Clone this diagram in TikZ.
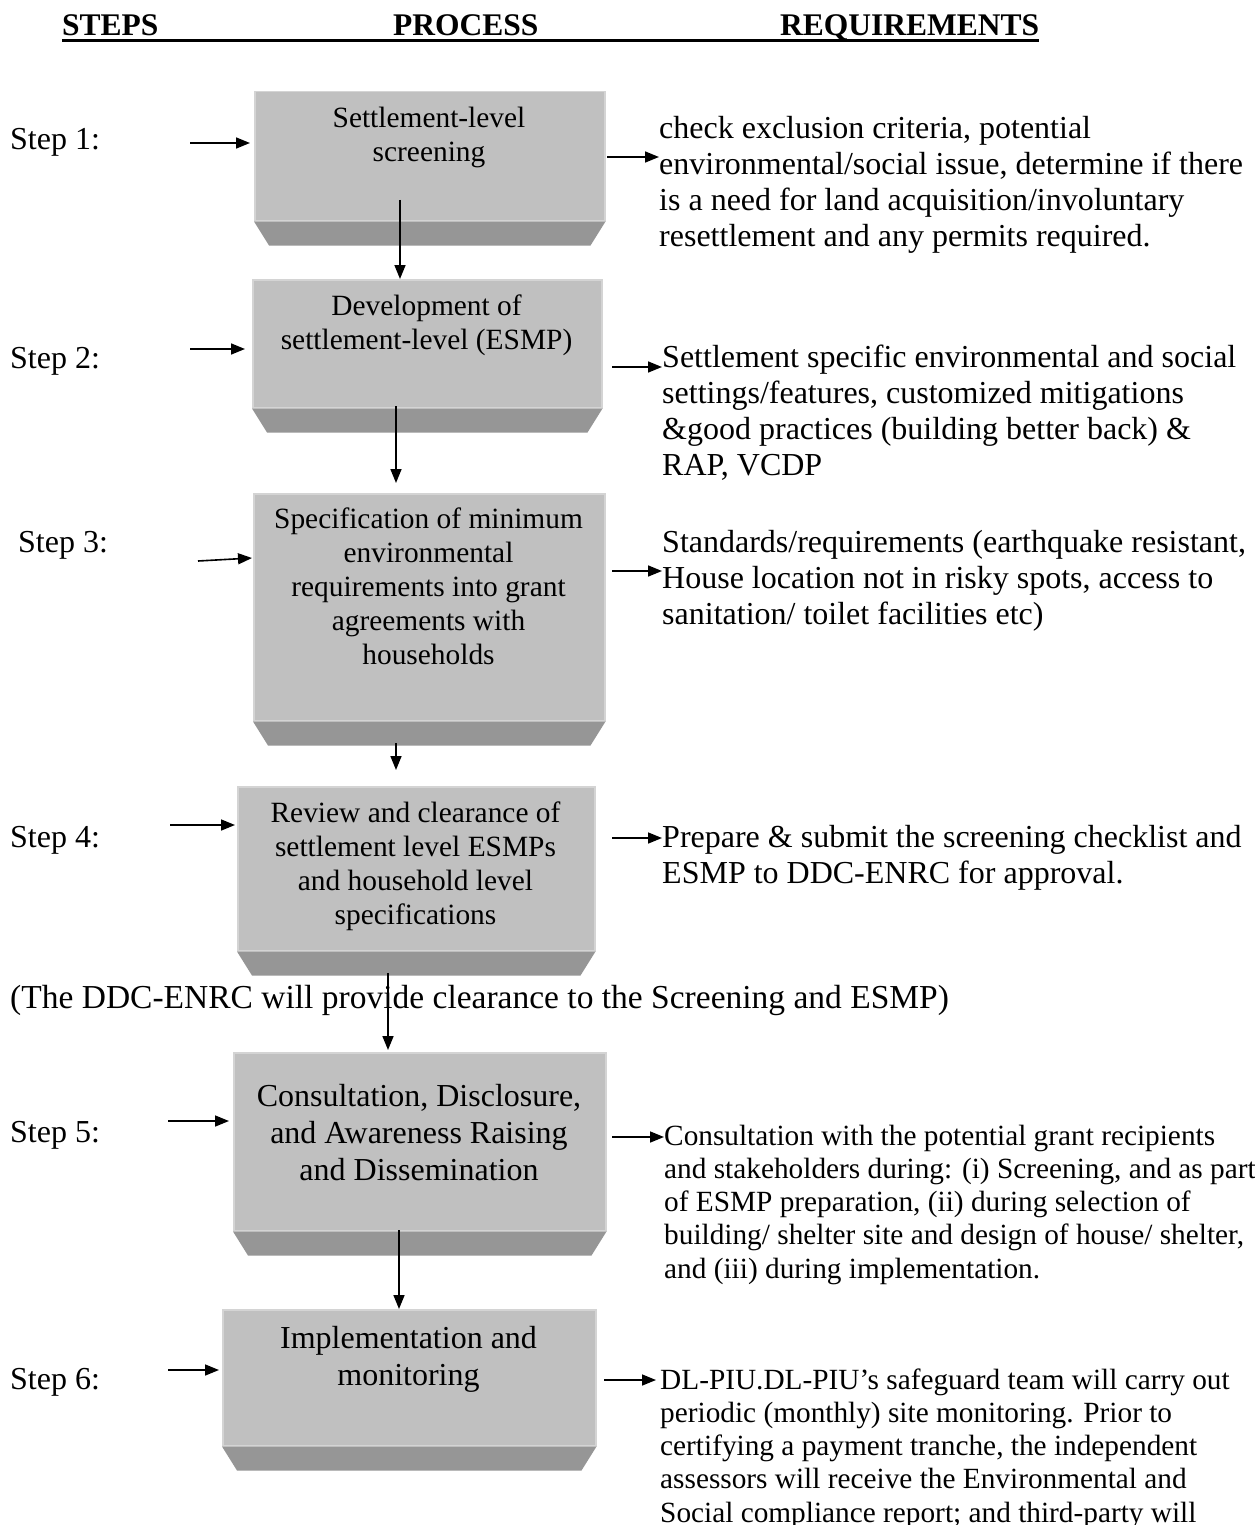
\documentclass[tikz,border=0pt]{standalone}
\usepackage{fontspec}
\setmainfont{Liberation Serif}
\usetikzlibrary{arrows.meta,calc}
\definecolor{facegray}{RGB}{192,192,192}
\definecolor{edgegray}{RGB}{212,212,212}
\definecolor{bevelgray}{RGB}{150,150,150}
\newcommand\myst{\rule{0pt}{25pt}}
\newcommand\mystb{\rule{0pt}{26pt}}
\tikzset{
  face/.style={fill=facegray, draw=edgegray, line width=1.5pt, inner sep=0pt, anchor=north west},
  bevelpart/.style={fill=bevelgray},
  btext/.style={align=center, anchor=north, inner sep=0pt, font=\fontsize{29.4}{34}\selectfont},
  btextb/.style={align=center, anchor=north, inner sep=0pt, font=\fontsize{32}{37}\selectfont},
  rtext/.style={align=left, anchor=north west, inner sep=0pt, font=\fontsize{32}{36}\selectfont},
  rtexts/.style={align=left, anchor=north west, inner sep=0pt, font=\fontsize{29.3}{33.2}\selectfont},
  steplabel/.style={anchor=base west, inner sep=0pt, font=\fontsize{32}{36}\selectfont},
  headtext/.style={anchor=base west, inner sep=0pt, font=\fontsize{31.5}{36}\selectfont\bfseries},
  arr/.style={line width=1.6pt, -{Triangle[length=14pt,width=11pt]}}
}
\begin{document}
\begin{tikzpicture}[x=1pt,y=-1pt]
\useasboundingbox (0,0) rectangle (1254,1525);
\fill[white] (0,0) rectangle (1254,1525);
\clip (0,0) rectangle (1254,1525);

% header
\node[headtext] (h1) at (62,36) {STEPS};
\node[headtext] (h2) at (393,36) {PROCESS};
\node[headtext] (h3) at (780,36) {REQUIREMENTS};
\draw[line width=3pt] (h1.base west) ++(0,-5pt) coordinate (ul) -- (ul -| h3.east);

% boxes
\node[face, minimum width=350pt, minimum height=129pt] (b1) at (254,91) {};
\node[face, minimum width=349pt, minimum height=128pt] (b2) at (252,279) {};
\node[face, minimum width=351pt, minimum height=227pt] (b3) at (253,493) {};
\node[face, minimum width=357pt, minimum height=164pt] (b4) at (237,786) {};
\node[face, minimum width=372pt, minimum height=178pt] (b5) at (233,1052) {};
\node[face, minimum width=373pt, minimum height=136pt] (b6) at (222,1309) {};
\foreach \b in {b1,b2,b3,b4,b5,b6}{
  \fill[bevelpart] (\b.south west) -- (\b.south east) -- ([xshift=-15pt,yshift=-24pt]\b.south east) -- ([xshift=15pt,yshift=-24pt]\b.south west) -- cycle;
}

% box texts
\node[btext] (t1) at (429,102) {\myst Settlement-level\\screening};
\node[btext] (t2) at (426.5,290) {\myst Development of\\settlement-level (ESMP)};
\node[btext] (t3) at (428.5,503) {\myst Specification of minimum\\environmental\\requirements into grant\\agreements with\\households};
\node[btext] (t4) at (415.5,797) {\myst Review and clearance of\\settlement level ESMPs\\and household level\\specifications};
\node[btextb] (t5) at (419,1080) {\mystb Consultation, Disclosure,\\and Awareness Raising\\and Dissemination};
\node[btextb] (t6) at (408.5,1322) {\mystb Implementation and\\monitoring};

% step labels
\node[steplabel] (s1) at (10,150) {Step 1:};
\node[steplabel] (s2) at (10,368) {Step 2:};
\node[steplabel] (s3) at (18,552) {Step 3:};
\node[steplabel] (s4) at (10,847) {Step 4:};
\node[steplabel] (s5) at (10,1142) {Step 5:};
\node[steplabel] (s6) at (10,1389) {Step 6:};

% requirement texts
\node[rtext] (q1) at (659,112) {\mystb check exclusion criteria, potential\\environmental/social issue, determine if there\\is a need for land acquisition/involuntary\\resettlement and any permits required.};
\node[rtext] (q2) at (662,341) {\mystb Settlement specific environmental and social\\settings/features, customized mitigations\\\&good practices (building better back) \&\\RAP, VCDP};
\node[rtext] (q3) at (662,526) {\mystb Standards/requirements (earthquake resistant,\\House location not in risky spots, access to\\sanitation/ toilet facilities etc)};
\node[rtext] (q4) at (662,821) {\mystb Prepare \& submit the screening checklist and\\ESMP to DDC-ENRC for approval.};
\node[rtexts] (q5) at (664,1120) {\myst Consultation with the potential grant recipients\\and stakeholders during: (i) Screening, and as part\\of ESMP preparation, (ii) during selection of\\building/ shelter site and design of house/ shelter,\\and (iii) during implementation.};
\node[rtexts] (q6) at (660,1364) {\myst DL-PIU.DL-PIU’s safeguard team will carry out\\periodic (monthly) site monitoring. Prior to\\certifying a payment tranche, the independent\\assessors will receive the Environmental and\\Social compliance report; and third-party will};

% middle note
\node[anchor=base west, inner sep=0pt, font=\fontsize{33.5}{38}\selectfont] (note) at (10,1008) {(The DDC-ENRC will provide clearance to the Screening and ESMP)};

% left arrows
\coordinate (l1) at (190,143);
\coordinate (l2) at (190,349);
\coordinate (l3) at (198,561);
\coordinate (l4) at (170,825);
\coordinate (l5) at (168,1121);
\coordinate (l6) at (168,1370);
\draw[arr] (l1) -- ([xshift=-4pt]l1 -| b1.west);
\draw[arr] (l2) -- ([xshift=-7pt]l2 -| b2.west);
\draw[arr] (l3) -- ([xshift=-1pt,yshift=3pt]l3 -| b3.west);
\draw[arr] (l4) -- ([xshift=-2pt]l4 -| b4.west);
\draw[arr] (l5) -- ([xshift=-4pt]l5 -| b5.west);
\draw[arr] (l6) -- ([xshift=-3pt]l6 -| b6.west);

% right arrows
\coordinate (r1) at (607,157);
\coordinate (r2) at (612,367);
\coordinate (r3) at (612,571);
\coordinate (r4) at (612,838);
\coordinate (r5) at (612,1137);
\coordinate (r6) at (604,1380);
\draw[arr] (r1) -- (r1 -| q1.west);
\draw[arr] (r2) -- (r2 -| q2.west);
\draw[arr] (r3) -- (r3 -| q3.west);
\draw[arr] (r4) -- (r4 -| q4.west);
\draw[arr] (r5) -- (r5 -| q5.west);
\draw[arr] (r6) -- ([xshift=-4pt]r6 -| q6.west);

% down arrows
\coordinate (d1) at (400,200);
\coordinate (d2) at (396,406);
\coordinate (d3) at (396,743);
\coordinate (d4) at (388,973);
\coordinate (d5) at (399,1230);
\draw[arr] (d1) -- (d1 |- b2.north);
\draw[arr] (d2) -- ([yshift=10pt]d2 |- b3.north);
\draw[arr] (d3) -- ([yshift=16pt]d3 |- b4.north);
\draw[arr] (d4) -- ([yshift=2pt]d4 |- b5.north);
\draw[arr] (d5) -- (d5 |- b6.north);
\end{tikzpicture}
\end{document}
